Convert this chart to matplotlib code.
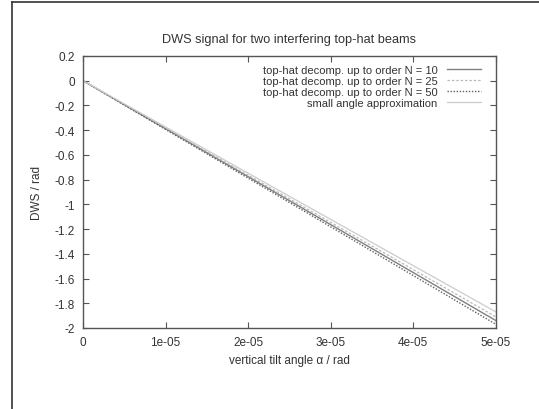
import matplotlib
matplotlib.use('Agg')
import matplotlib.pyplot as plt
from matplotlib.lines import Line2D

# data
alpha = [0.0, 1e-05, 2e-05, 3e-05, 4e-05, 5e-05]
dws_n10 = [0.0, -0.388, -0.776, -1.164, -1.552, -1.94]
dws_n25 = [0.0, -0.382, -0.764, -1.146, -1.528, -1.91]
dws_n50 = [0.0, -0.394, -0.788, -1.182, -1.576, -1.97]
dws_small = [0.0, -0.374, -0.748, -1.122, -1.496, -1.87]

labels = ['top-hat decomp. up to order N = 10',
          'top-hat decomp. up to order N = 25',
          'top-hat decomp. up to order N = 50',
          'small angle approximation']

xticks = [0, 1e-05, 2e-05, 3e-05, 4e-05, 5e-05]
xticklabels = ['0', '1e-05', '2e-05', '3e-05', '4e-05', '5e-05']
yticks = [0.2, 0, -0.2, -0.4, -0.6, -0.8, -1, -1.2, -1.4, -1.6, -1.8, -2]
yticklabels = ['0.2', '0', '-0.2', '-0.4', '-0.6', '-0.8', '-1', '-1.2', '-1.4', '-1.6', '-1.8', '-2']

plt.rcParams['font.family'] = ['Liberation Sans', 'DejaVu Sans']
fs = 8.5
txtc = '#333333'

fig = plt.figure(figsize=(5.39, 4.10), dpi=100)
ax = fig.add_axes([0.154, 0.1976, 0.766, 0.6634])

ax.plot(alpha, dws_n10, color='#808080', lw=1.0, ls='-', label=labels[0])
ax.plot(alpha, dws_n25, color='#b8b8b8', lw=0.9, ls=(0, (2, 1.5)), label=labels[1])
ax.plot(alpha, dws_n50, color='#606060', lw=1.0, ls=(0, (1, 1.2)), label=labels[2])
ax.plot(alpha, dws_small, color='#cccccc', lw=0.9, ls='-', label=labels[3])

ax.set_xlim(0, 5e-05)
ax.set_ylim(-2, 0.2)
ax.set_xticks(xticks)
ax.set_xticklabels(xticklabels)
ax.set_yticks(yticks)
ax.set_yticklabels(yticklabels)
ax.tick_params(direction='in', top=True, right=True, length=4, width=0.8,
               color='#555555', labelsize=fs, labelcolor=txtc, pad=6)
for s in ax.spines.values():
    s.set_color('#555555')
    s.set_linewidth(1.0)

ax.set_title('DWS signal for two interfering top-hat beams', fontsize=9.2, color=txtc, pad=10)
ax.set_xlabel('vertical tilt angle \u03b1 / rad', fontsize=fs, color=txtc, labelpad=4)
ax.set_ylabel('DWS / rad', fontsize=fs, color=txtc, labelpad=8)

ax.legend(loc='upper right', frameon=False, markerfirst=False, fontsize=8,
          handlelength=3.0, handletextpad=0.9, labelspacing=0.1,
          borderaxespad=0.3, borderpad=0.5, bbox_to_anchor=(0.985, 1.0),
          labelcolor=txtc)

# outer frame of the page
fig.add_artist(Line2D([12 / 539, 12 / 539], [0, 1 - 3 / 410], transform=fig.transFigure,
                      color='#333333', lw=1.2))
fig.add_artist(Line2D([12 / 539, 1], [1 - 3 / 410, 1 - 3 / 410], transform=fig.transFigure,
                      color='#333333', lw=1.2))

fig.savefig('out.png', dpi=100)
